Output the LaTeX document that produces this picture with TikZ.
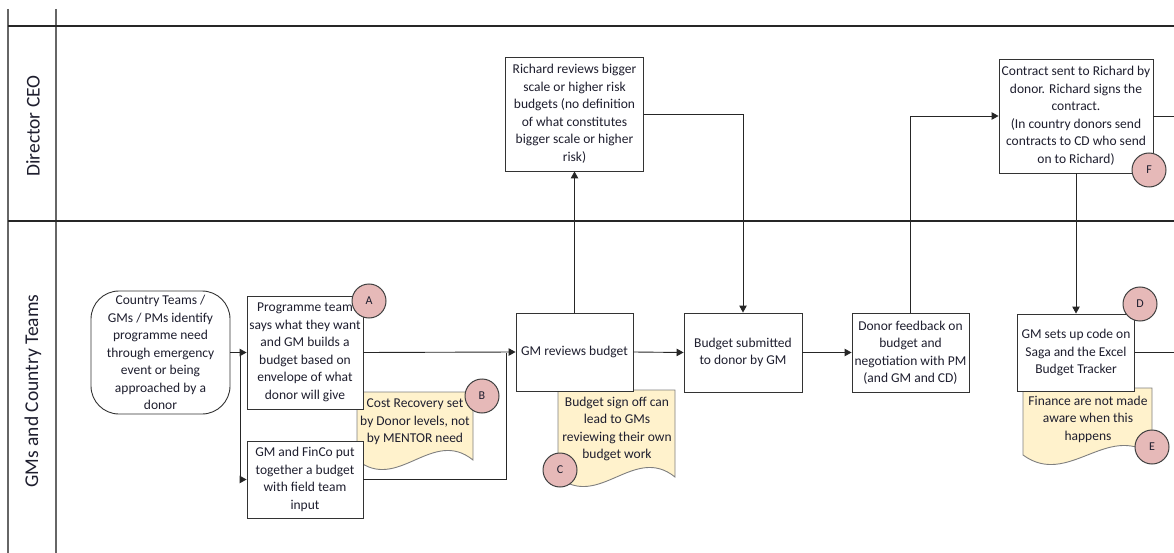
\documentclass[tikz,border=0pt]{standalone}
\usepackage{fontspec}
\setmainfont{Carlito}
\usetikzlibrary{arrows.meta}
\definecolor{notefill}{HTML}{FFF2CC}
\definecolor{notedraw}{HTML}{7F7F7F}
\definecolor{circfill}{HTML}{E6B9B8}
\definecolor{circdraw}{HTML}{404040}
\definecolor{txt}{HTML}{1E1E2E}
\begin{document}
\begin{tikzpicture}[x=1pt,y=-1pt,
  box/.style={draw=black!80, line width=0.9pt, fill=white, align=center,
    font=\fontsize{13.5}{17.5}\selectfont, text=txt, inner sep=1pt},
  notetext/.style={align=center, font=\fontsize{13.5}{17.5}\selectfont, text=txt, inner sep=0pt},
  notebox/.style={draw=notedraw, line width=0.9pt, fill=notefill},
  badge/.style={circle, draw=circdraw, line width=1pt, fill=circfill, minimum size=34pt,
    inner sep=0pt, font=\fontsize{12}{14}\selectfont, text=txt},
  flow/.style={draw=black!85, line width=0.9pt},
  arr/.style={flow, -{Triangle[length=7pt,width=7.5pt]}},
  lanev/.style={draw=black!60, line width=1.4pt},
  laneh/.style={draw=black!85, line width=1.2pt},
  lanelabel/.style={rotate=90, font=\fontsize{19.5}{22}\selectfont, text=txt, inner sep=0pt}]
\useasboundingbox (0,0) rectangle (1174,553);

% swimlane frame
\draw[lanev] (8,9) -- (8,553);
\draw[lanev] (56,9) -- (56,553);
\draw[laneh] (8,26) -- (1174,26);
\draw[laneh] (8,221) -- (1174,221);
\node[lanelabel] (laneceo) at (33,126) {Director CEO};
\node[lanelabel] (lanegm) at (33,391) {GMs and Country Teams};

% notes (document shapes)
\draw[notebox] (357,392) -- (473,392) -- (473,460)
  .. controls (432,427) and (398,493) .. (357,460) -- cycle;
\node[notetext] (noteB) at (415,422) {Cost Recovery set\\by Donor levels, not\\by MENTOR need};
\draw[notebox] (558,390) -- (675,390) -- (675,477)
  .. controls (634,444) and (599,510) .. (558,477) -- cycle;
\node[notetext] (noteC) at (617,429) {Budget sign off can\\lead to GMs\\reviewing their own\\budget work};
\draw[notebox] (1023,388) -- (1152,388) -- (1152,455)
  .. controls (1107,422) and (1068,488) .. (1023,455) -- cycle;
\node[notetext] (noteE) at (1088,419) {Finance are not made\\aware when this\\happens};

% process boxes
\node[box, rounded corners=28pt, minimum width=139pt, minimum height=123pt] (start) at (160.5,352.5)
  {Country Teams /\\GMs / PMs identify\\programme need\\through emergency\\event or being\\approached by a\\donor};
\node[box, minimum width=116pt, minimum height=113pt] (progA) at (305,352.5)
  {Programme team\\says what they want\\and GM builds a\\budget based on\\envelope of what\\donor will give};
\node[box, minimum width=116pt, minimum height=77pt] (finco) at (305,479.5)
  {GM and FinCo put\\together a budget\\with field team\\input};
\node[box, minimum width=117pt, minimum height=78pt] (gmr) at (574.5,352)
  {GM reviews budget};
\node[box, minimum width=138pt, minimum height=114pt] (richard) at (574.5,114)
  {Richard reviews bigger\\scale or higher risk\\budgets (no definition\\of what constitutes\\bigger scale or higher\\risk)};
\node[box, minimum width=118pt, minimum height=79pt] (sub) at (743,352.5)
  {Budget submitted\\to donor by GM};
\node[box, minimum width=117pt, minimum height=79pt] (donor) at (910.5,352.5)
  {Donor feedback on\\budget and\\negotiation with PM\\(and GM and CD)};
\node[box, minimum width=154pt, minimum height=114pt] (contract) at (1076,116)
  {Contract sent to Richard by\\donor. Richard signs the\\contract.\\(In country donors send\\contracts to CD who send\\on to Richard)};
\node[box, minimum width=117pt, minimum height=77pt] (gmset) at (1076,352.5)
  {GM sets up code on\\Saga and the Excel\\Budget Tracker};

% connector helper points
\coordinate (split) at (240,352.5);
\coordinate (join) at (506,352.5);
\coordinate (exitC) at (1174,116);
\coordinate (exitG) at (1174,352.5);

% connectors
\draw[arr] (start.east) -- (progA.west);
\draw[arr] (split) |- (finco.west);
\draw[arr] (progA.east) -- (gmr.west);
\draw[flow] (finco.east) -| (join);
\draw[arr] (gmr.north) -- (richard.south);
\draw[arr] (richard.east) -| (sub.north);
\draw[arr] (gmr.east) -- (sub.west);
\draw[arr] (sub.east) -- (donor.west);
\draw[arr] (donor.north) |- (contract.west);
\draw[flow] (contract.east) -- (exitC);
\draw[arr] (contract.south) -- (gmset.north);
\draw[flow] (gmset.east) -- (exitG);

% badges
\node[badge] (bA) at (369,301) {A};
\node[badge] (bB) at (482,396) {B};
\node[badge] (bC) at (560,470) {C};
\node[badge] (bD) at (1140,304) {D};
\node[badge] (bE) at (1152,447) {E};
\node[badge] (bF) at (1149,170) {F};
\end{tikzpicture}
\end{document}
